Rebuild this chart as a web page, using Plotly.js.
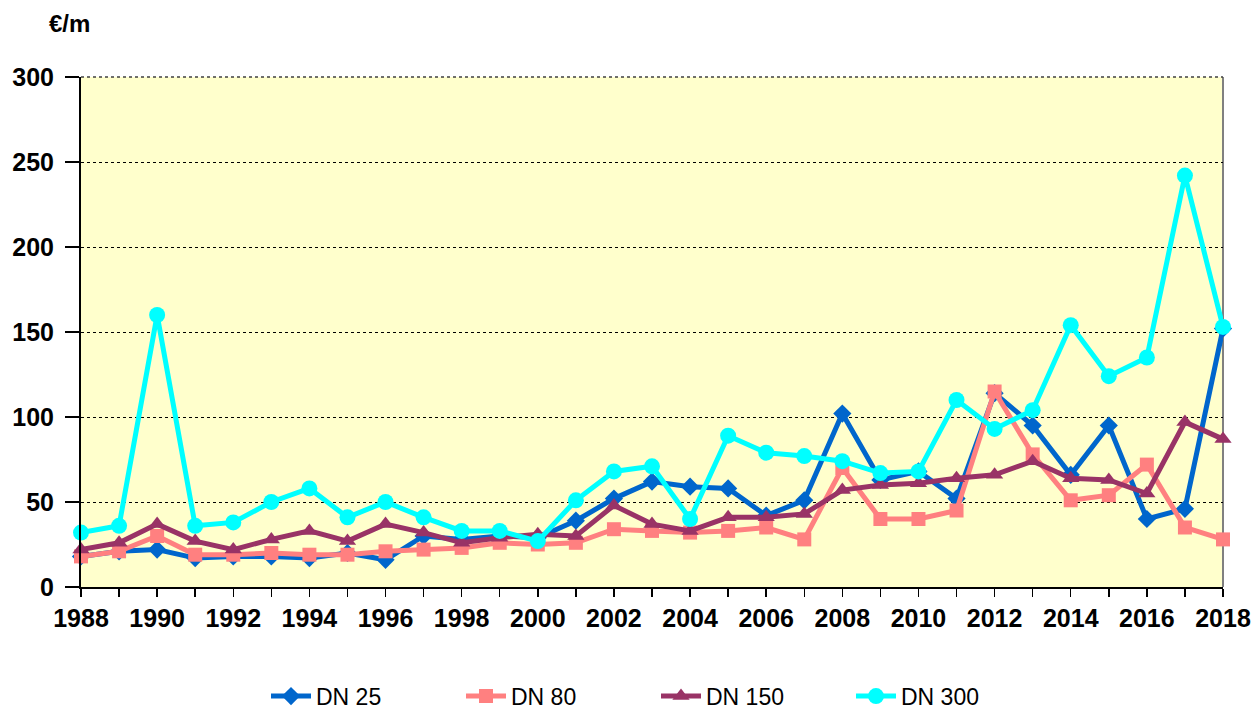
<!DOCTYPE html>
<html>
<head>
<meta charset="utf-8">
<script src="https://cdn.plot.ly/plotly-3.0.1.min.js"></script>
<style>html,body{margin:0;padding:0;background:#fff;}#chart{width:1258px;height:712px;}</style>
</head>
<body>
<div id="chart"></div>
<script>
const years = [1988,1989,1990,1991,1992,1993,1994,1995,1996,1997,1998,1999,2000,2001,2002,2003,2004,2005,2006,2007,2008,2009,2010,2011,2012,2013,2014,2015,2016,2017,2018];
const dn25  = [18,21,22,17,18,18,17,20,16,30,28,30,29,39,52,62,59,58,42,51,102,63,68,52,114,95,66,95,40,46,152];
const dn80  = [18,21,30,19,19,20,19,19,21,22,23,26,25,26,34,33,32,33,35,28,70,40,40,45,115,78,51,54,72,35,28];
const dn150 = [22,26,37,27,22,28,33,27,37,32,26,29,31,30,48,37,33,41,41,43,57,60,61,64,66,74,64,63,55,97,87];
const dn300 = [32,36,160,36,38,50,58,41,50,41,33,33,27,51,68,71,40,89,79,77,74,67,68,110,93,104,154,124,135,242,153];
const seriesNames = ["DN 25","DN 80","DN 150","DN 300"];
const yTicks = [0,50,100,150,200,250,300];
const xTickLabels = years.map(y => (y % 2 === 0 ? String(y) : ""));

const font = "Arial, 'Liberation Sans', sans-serif";
function tr(name, y, color, symbol, size){
  return {x: years, y: y, name: name, type: 'scatter', mode: 'lines+markers', cliponaxis: false,
    line: {color: color, width: 5}, marker: {symbol: symbol, size: size, color: color}};
}
const data = [
  tr(seriesNames[0], dn25, '#0066CC', 'diamond', 14),
  tr(seriesNames[1], dn80, '#FF8080', 'square', 14),
  tr(seriesNames[2], dn150, '#993366', 'triangle-up', 15),
  tr(seriesNames[3], dn300, '#00FFFF', 'circle', 16)
];
const layout = {
  width: 1258, height: 712,
  margin: {l: 81, r: 35, t: 77, b: 125, autoexpand: false},
  paper_bgcolor: '#FFFFFF', plot_bgcolor: '#FFFFCC',
  showlegend: true,
  legend: {orientation: 'h', x: 0.162, xanchor: 'left', y: -0.214, yanchor: 'middle',
    font: {family: font, size: 23, color: '#000'}, entrywidth: 140, itemwidth: 40,
    traceorder: 'normal'},
  xaxis: {range: [1988, 2018], tickvals: years, ticktext: xTickLabels, automargin: false,
    ticks: 'outside', ticklen: 8, tickwidth: 1.5, tickcolor: '#000',
    showline: true, linecolor: '#000', linewidth: 2, showgrid: false, zeroline: false,
    tickfont: {family: font, size: 25, color: '#000', weight: 'bold'}, tickangle: 0},
  yaxis: {range: [0, 300], tickvals: yTicks, automargin: false, ticks: 'outside', ticklen: 14, tickwidth: 1.5, tickcolor: '#000',
    showline: true, linecolor: '#000', linewidth: 2, showgrid: true, gridcolor: '#000', griddash: 'dot', gridwidth: 1,
    zeroline: false, tickfont: {family: font, size: 25, color: '#000', weight: 'bold'}, ticklabelstandoff: 6},
  shapes: [
    {type: 'line', xref: 'paper', yref: 'paper', x0: 1, x1: 1, y0: 0, y1: 1, layer: 'below', line: {color: '#808080', width: 2}},
    {type: 'line', xref: 'paper', yref: 'paper', x0: 0, x1: 1, y0: 1, y1: 1, layer: 'below', line: {color: '#404040', width: 1.5, dash: 'dot'}}
  ],
  annotations: [
    {text: '€/m', xref: 'paper', yref: 'paper', x: -0.03, y: 1.104, xanchor: 'left', yanchor: 'middle', showarrow: false,
     font: {family: font, size: 24, color: '#000', weight: 'bold'}}
  ]
};
Plotly.newPlot('chart', data, layout, {displayModeBar: false, staticPlot: true});
</script>
</body>
</html>
